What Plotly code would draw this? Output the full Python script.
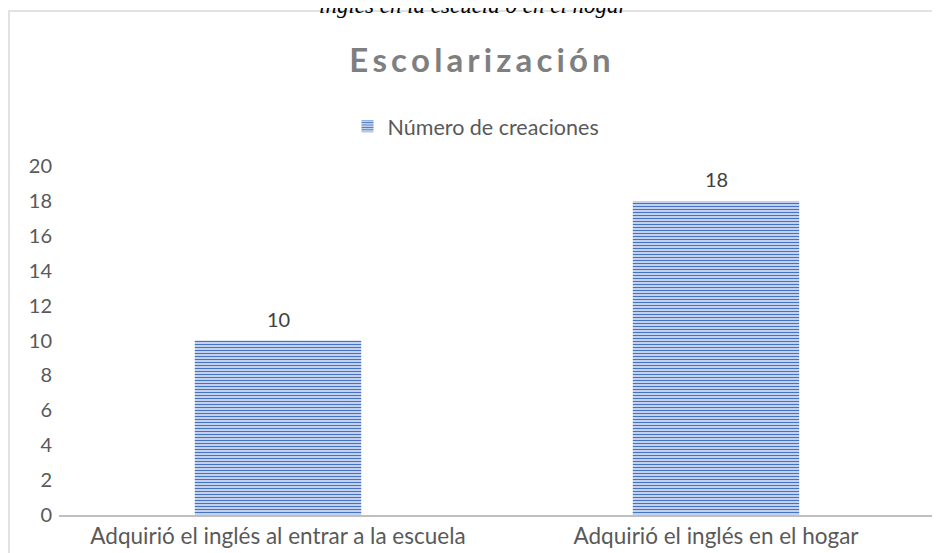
import plotly.graph_objects as go

categories = ["Adquirió el inglés al entrar a la escuela", "Adquirió el inglés en el hogar"]
values = [10, 18]
series_name = "Número de creaciones"
title_text = "Escolarización"
caption_text = "inglés en la escuela o en el hogar"
y_ticks = [0, 2, 4, 6, 8, 10, 12, 14, 16, 18, 20]

# page offset of the figure inside the browser window (default body margin)
OFF = 8
W, H = 940, 553
ML, MR, MT, MB = 59 - OFF, 940 - (935 - OFF), 166 - OFF, 553 - (517 - OFF)
PW = W - ML - MR
PH = H - MT - MB

def px_to_paper_x(px):
    return (px - OFF - ML) / PW

def px_to_paper_y(py):
    return (H - MB - (py - OFF)) / PH

spaced_title = "\u2009".join(list(title_text))

fig = go.Figure()
fig.add_trace(go.Bar(
    x=categories,
    y=values,
    name=series_name,
    marker=dict(
        color="white",
        line=dict(width=0),
        pattern=dict(shape="-", fgcolor="#4472C4", bgcolor="white", fgopacity=1,
                     size=3, solidity=0.55, fillmode="overlay"),
    ),
    showlegend=True,
))

# data labels above the bars
for cat, val in zip(categories, values):
    fig.add_annotation(
        x=cat, y=val, xref="x", yref="y",
        text=str(val), showarrow=False,
        yanchor="bottom", yshift=8,
        font=dict(family="Lato", size=20, color="#404040"),
    )

fig.update_layout(
    width=W, height=H,
    margin=dict(l=ML, r=MR, t=MT, b=MB),
    paper_bgcolor="white",
    plot_bgcolor="white",
    font=dict(family="Lato", size=20, color="#595959"),
    bargap=0.62,
    title=dict(
        text="<b>" + spaced_title + "</b>",
        x=(480 - OFF) / W, xanchor="center",
        y=1 - (60 - OFF) / H, yanchor="middle",
        font=dict(family="Lato", size=33, color="#7F7F7F"),
    ),
    legend=dict(
        orientation="h",
        x=px_to_paper_x(476), xanchor="center",
        y=px_to_paper_y(126), yanchor="middle",
        font=dict(family="Lato", size=21.5, color="#595959"),
        itemwidth=30,
    ),
    xaxis=dict(
        showline=True, linecolor="#BFBFBF", linewidth=2,
        showgrid=False, ticks="", zeroline=False,
        tickfont=dict(family="Lato", size=22.5, color="#595959"),
    ),
    yaxis=dict(
        range=[0, 20], tickvals=y_ticks,
        showgrid=False, showline=False, zeroline=False, ticks="",
        tickfont=dict(family="Lato", size=20, color="#595959"),
        ticklabelstandoff=6,
    ),
    shapes=[dict(
        type="rect", xref="paper", yref="paper",
        x0=px_to_paper_x(9), x1=px_to_paper_x(980),
        y0=px_to_paper_y(600), y1=px_to_paper_y(10),
        line=dict(color="#D9D9D9", width=1.5),
        fillcolor="rgba(0,0,0,0)", layer="below",
    )],
)

fig.add_annotation(
    text="<i>" + caption_text + "</i>",
    xref="paper", yref="paper",
    x=px_to_paper_x(474), xanchor="center",
    y=px_to_paper_y(19), yanchor="bottom",
    showarrow=False,
    font=dict(family="Liberation Serif", size=23, color="black"),
)

fig.write_html("out.html")
